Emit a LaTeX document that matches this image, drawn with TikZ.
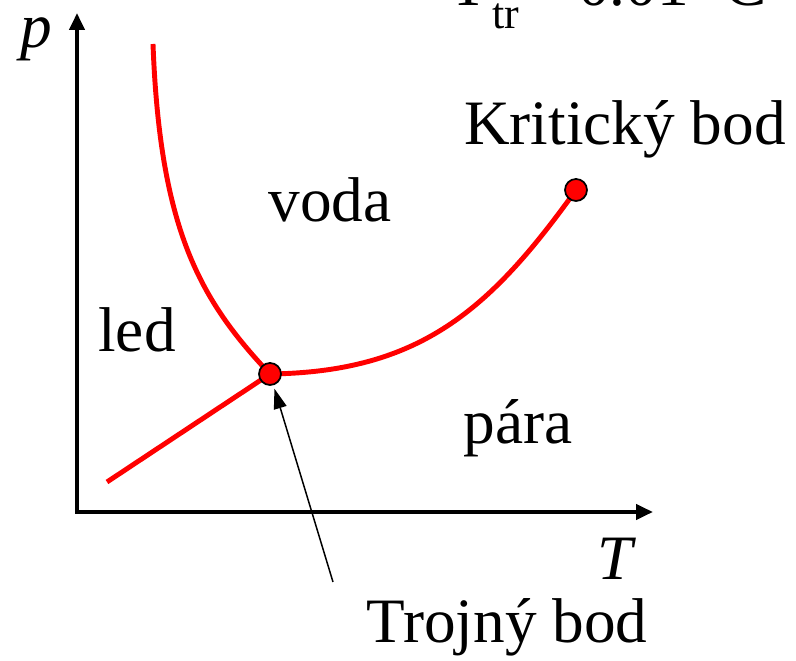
\documentclass[tikz,border=0pt]{standalone}
\usepackage{fontspec}
\setmainfont{Liberation Serif}
\usetikzlibrary{arrows.meta}
\tikzset{
  % axes
  osa/.style={line width=2.3pt, black, -{Triangle[length=0.34cm,width=0.3cm]}},
  % phase boundaries
  krivka/.style={line width=2.8pt, red},
  % marked points
  bod/.style={circle, draw=black, line width=1pt, fill=red, minimum size=0.44cm, inner sep=0pt},
  % pointer
  sipka/.style={line width=0.85pt, black, -{Triangle[length=0.4cm,width=0.26cm]}, shorten >=2pt},
  % texts
  popis/.style={font=\fontsize{36}{40}\selectfont, inner sep=0pt, anchor=base},
}
\begin{document}
\begin{tikzpicture}[x=0.02cm, y=-0.02cm]
  \useasboundingbox (0,0) rectangle (796,661);

  %% title, mostly out of the frame
  \node[popis, anchor=base west] (nadpis) at (449,6)
    {T\raisebox{-0.36em}{\fontsize{25}{25}\selectfont\hspace{0.1em}tr}\hspace{0.12em}= 0.01\,°C};

  %% axes
  \coordinate (pocatek) at (77,512);
  \coordinate (osap) at (77,13);
  \coordinate (osaT) at (653,512);
  \draw[osa] (pocatek) -- (osap);
  \draw[osa] (75,512) -- (osaT);
  \node[popis, font=\fontsize{36}{40}\selectfont\itshape] (p) at (36,48) {p};
  \node[popis, font=\fontsize{36}{40}\selectfont\itshape] (T) at (615,580) {T};

  %% points
  \coordinate (tb) at (270,374);
  \coordinate (kb) at (576,190);
  \coordinate (led0) at (153,44);
  \coordinate (sub0) at (107,482);

  %% phase boundaries
  \draw[krivka] (led0) .. controls (160,230) and (200,300) .. (tb);
  \draw[krivka] (sub0) -- (tb);
  \draw[krivka] (tb) .. controls (420,372) and (490,310) .. (kb);

  \node[bod] (trojny) at (tb) {};
  \node[bod] (kriticky) at (kb) {};

  %% regions
  \node[popis] (voda) at (330,222) {voda};
  \node[popis] (led) at (137,352) {led};
  \node[popis] (para) at (518,444) {pára};

  %% names of points
  \node[popis] (kritlbl) at (625,145) {Kritický bod};
  \node[popis] (trojlbl) at (507,643) {Trojný bod};
  \coordinate (sipka0) at (333,582);
  \draw[sipka] (sipka0) -- (trojny);
\end{tikzpicture}
\end{document}
